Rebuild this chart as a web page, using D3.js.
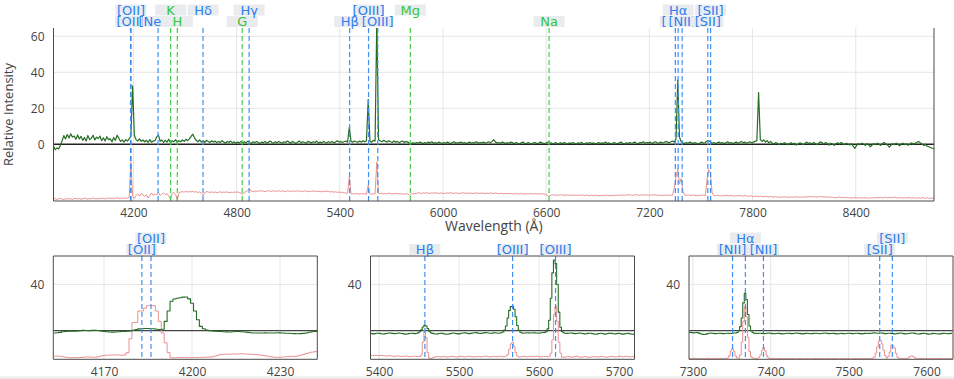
<!DOCTYPE html>
<html>
<head>
<meta charset="utf-8">
<script src="https://cdn.jsdelivr.net/npm/d3@7"></script>
<style>
  body { margin: 0; background: #fff; }
  svg { display: block; }
  .tick text { font-family: "Open Sans", sans-serif; font-size: 12px; fill: #444; }
  .axis-title { font-family: "Open Sans", sans-serif; font-size: 14px; fill: #444; }
  .line-label { font-family: "DejaVu Sans", sans-serif; font-size: 13px; }
</style>
</head>
<body>
<div id="chart"></div>
<script>
// overview spectrum, 10 A sampling starting at 3735 A
const overviewStart = 3735, overviewStep = 10;
const overviewGreen = [
  -1.0, -3.0, -2.0, -2.6, -0.5, 2.0, 4.8, 3.0, 5.4, 3.5,
  5.8, 4.0, 4.6, 2.8, 5.2, 3.0, 4.4, 2.2, 3.8, 1.8,
  4.9, 2.6, 3.4, 5.0, 2.4, 4.0, 3.2, 4.6, 2.0, 3.6,
  1.8, 4.2, 2.6, 3.0, 1.4, 3.8, 2.2, 5.0, 3.4, 1.6,
  2.4, 1.2, 2.6, 1.8, 3.0, 4.5, 32.4, 5.0, 2.6, 1.8,
  3.0, 1.6, 2.4, 1.4, 2.2, 1.0, 2.6, 1.2, 1.8, 2.0,
  4.0, 5.2, 1.6, 2.4, 1.0, 2.2, 1.2, 2.8, 0.8, 2.0,
  1.4, 2.6, 1.0, 2.0, 1.4, 2.4, 1.6, 2.8, 2.0, 3.0,
  4.4, 5.6, 3.6, 2.2, 1.4, 2.4, 1.2, 2.0, 1.0, 2.2,
  1.6, 1.0, 2.0, 1.2, 1.8, 0.8, 1.6, 1.0, 2.0, 1.2,
  0.6, 1.6, 1.0, 1.8, 0.8, 1.4, 0.6, 1.2, 0.8, 1.6,
  0.6, 1.4, 0.8, 1.8, 1.0, 0.6, 1.4, 0.8, 1.6, 1.0,
  0.4, 1.2, 0.8, 1.6, 0.6, 1.2, 1.8, 1.0, 0.6, 1.4,
  0.8, 1.6, 1.0, 0.6, 1.4, 1.0, 1.8, 1.2, 0.6, 1.6,
  1.0, 0.4, 1.2, 1.8, 0.8, 1.4, 1.0, 0.6, 1.6, 1.2,
  0.8, 1.4, 1.0, 1.8, 0.6, 1.2, 0.8, 1.6, 1.0, 0.8,
  1.4, 1.0, 1.6, 0.8, 1.2, 2.0, 1.2, 1.6, 1.0, 1.4,
  1.8, 1.2, 9.4, 1.6, 1.2, 1.8, 1.4, 1.0, 1.8, 1.2,
  2.0, 1.4, 2.0, 25.0, 1.6, 1.2, 2.2, 1.8, 70.0, 2.6,
  1.8, 1.4, 2.2, 1.6, 1.2, 2.0, 1.4, 1.0, 1.8, 1.2,
  1.6, 0.8, 1.4, 1.8, 1.0, 1.6, 1.2, 0.6, 0.4, 0.8,
  0.4, 1.0, 0.6, 1.2, 0.8, 0.4, 1.0, 0.6, 1.2, 0.8,
  1.4, 0.6, 1.0, 0.4, 1.2, 0.8, 0.6, 1.0, 0.6, 1.2,
  0.8, 0.4, 1.0, 1.4, 0.6, 1.0, 0.8, 1.2, 0.6, 1.0,
  0.4, 0.8, 1.2, 0.6, 1.0, 0.8, 1.4, 0.6, 1.0, 0.8,
  1.2, 0.6, 1.0, 1.4, 0.8, 1.6, 2.6, 1.2, 0.8, 1.0,
  0.6, 1.2, 0.8, 0.4, 1.0, 0.6, 1.2, 0.8, 0.4, 1.0,
  0.6, 0.2, 0.8, 1.2, 0.6, 0.4, 1.0, 0.6, 0.2, 0.8,
  1.0, 0.4, 0.6, 1.2, 0.8, 0.4, 0.6, 1.0, 1.4, 0.8,
  0.4, 0.6, 1.0, 0.2, 0.6, 0.8, 0.4, 1.0, 0.6, 0.2,
  0.8, 0.4, 1.0, 0.6, 0.2, 0.8, 0.6, 1.0, 0.4, 0.2,
  0.8, 0.6, 1.0, 0.4, 0.8, 0.2, 0.6, 1.0, 0.4, 0.8,
  0.6, 1.2, 0.4, 0.8, 0.2, 0.6, 1.0, 0.6, 0.4, 0.8,
  1.2, 0.6, 0.2, 0.8, 0.4, 1.0, 0.6, 0.8, 1.2, 0.6,
  0.4, 1.0, 0.8, 1.4, 0.6, 1.0, 0.8, 1.2, 0.4, 1.0,
  1.4, 0.8, 0.6, 1.2, 0.8, 1.0, 1.6, 1.2, 0.8, 1.4,
  1.8, 1.2, 3.0, 35.7, 4.0, 1.4, 0.8, 0.4, 1.0, 0.6,
  1.2, 0.8, 0.4, 1.0, 0.6, 0.2, 0.8, 1.2, 0.6, 1.0,
  1.8, 2.0, 1.2, 0.6, 1.0, 0.4, 0.8, 1.2, 0.6, 1.0,
  0.4, 0.8, 1.4, 0.6, 1.0, 0.4, 0.8, 1.2, 0.6, 1.0,
  1.6, 0.8, 1.2, 0.6, 1.0, 1.4, 0.8, 1.2, 1.6, 2.0,
  28.7, 2.6, 1.6, 2.4, 1.2, 2.0, 0.8, 1.6, 0.6, 0.2,
  1.0, 0.4, -0.2, 0.6, 0.2, 0.8, 0.4, -0.2, 0.4, 0.8,
  0.2, 0.6, -0.4, 0.2, 0.8, 0.4, -0.2, 0.6, 1.2, 0.4,
  0.8, 0.2, 1.0, 0.4, -0.2, 0.6, 1.4, 0.8, 0.2, 1.0,
  0.4, -0.4, 0.6, 0.2, -0.6, 0.4, 0.8, 0.2, 1.0, 0.4,
  -0.2, 0.6, 0.2, -0.4, 0.4, -1.0, -2.2, -0.6, 0.4, -0.2,
  0.6, 0.2, -0.6, 0.4, -0.2, -1.4, -0.4, 0.4, -0.2, 0.6,
  0.0, -0.6, 0.4, 1.0, 0.2, -0.4, -1.6, -0.4, 0.4, -0.2,
  0.6, 0.0, -0.8, 0.2, 0.6, -0.2, 0.4, -0.6, 0.2, 0.8,
  0.0, 0.6, 1.0, 1.6, 0.8, 0.2, -0.6, -0.2, -1.0, -1.4,
  -1.8, -2.2, -2.4
];
const overviewRed = [
  -30.4, -30.2, -30.6, -30.3, -30.0, -30.4, -30.7, -30.2, -30.5, -30.1,
  -30.3, -30.6, -30.2, -30.0, -30.4, -30.1, -30.5, -30.3, -29.9, -30.2,
  -30.5, -30.1, -30.3, -29.8, -30.2, -30.4, -30.0, -30.3, -29.9, -30.1,
  -30.4, -30.0, -29.8, -30.2, -29.9, -30.3, -30.0, -29.7, -30.1, -29.9,
  -30.2, -29.8, -30.0, -29.9, -29.6, -9.7, -28.6, -30.2, -28.4, -27.6,
  -28.8, -27.4, -28.2, -29.0, -28.0, -29.9, -28.6, -27.0, -28.4, -27.6,
  -28.2, -26.6, -28.6, -27.6, -27.0, -28.0, -27.4, -28.8, -30.5, -27.2,
  -26.9, -27.8, -31.0, -26.8, -26.5, -26.3, -26.6, -26.2, -26.5, -26.3,
  -26.4, -26.2, -26.6, -26.3, -26.8, -26.4, -27.2, -28.6, -26.8, -26.3,
  -26.5, -26.7, -26.4, -26.8, -26.5, -26.9, -26.6, -26.4, -26.8, -26.5,
  -26.7, -26.4, -26.9, -26.6, -26.8, -26.5, -26.7, -26.4, -26.9, -27.2,
  -27.8, -26.6, -26.3, -25.6, -24.8, -26.0, -26.4, -25.9, -26.2, -26.0,
  -25.8, -26.1, -25.9, -26.3, -26.0, -25.7, -26.2, -26.0, -25.8, -26.1,
  -26.0, -25.8, -26.2, -25.9, -26.1, -26.3, -25.8, -26.0, -26.2, -25.9,
  -26.1, -26.0, -25.8, -26.3, -26.0, -26.2, -25.9, -26.1, -26.4, -26.0,
  -26.2, -25.9, -26.1, -26.3, -26.0, -26.2, -26.4, -26.1, -26.3, -26.0,
  -26.2, -26.5, -26.3, -26.6, -26.4, -26.7, -26.5, -26.8, -26.6, -27.0,
  -27.1, -27.2, -18.1, -27.6, -27.4, -27.6, -27.3, -27.5, -27.7, -27.4,
  -27.6, -27.4, -27.8, -22.6, -27.5, -27.7, -27.4, -27.6, -9.7, -27.2,
  -27.4, -27.2, -27.6, -27.3, -27.5, -27.1, -27.4, -27.6, -27.2, -27.5,
  -27.3, -27.6, -27.4, -27.7, -27.5, -27.8, -27.4, -28.5, -27.6, -27.3,
  -27.2, -27.4, -26.8, -27.1, -27.3, -27.0, -27.2, -26.9, -27.1, -27.3,
  -27.0, -27.2, -26.9, -27.1, -27.3, -27.0, -27.2, -27.4, -27.1, -27.0,
  -27.2, -26.9, -27.1, -27.3, -27.0, -27.2, -27.4, -27.1, -26.9, -27.2,
  -27.0, -27.3, -27.1, -27.2, -27.4, -27.0, -27.2, -27.1, -27.3, -27.0,
  -27.2, -27.4, -27.1, -27.3, -27.0, -27.2, -27.4, -27.1, -27.3, -27.5,
  -27.2, -27.4, -27.6, -27.3, -27.5, -27.2, -27.4, -27.6, -27.3, -27.5,
  -27.4, -27.6, -27.3, -27.5, -27.7, -27.4, -27.6, -27.3, -27.5, -27.6,
  -27.4, -27.6, -27.5, -27.7, -27.4, -27.6, -27.8, -28.2, -29.0, -28.4,
  -28.0, -28.2, -28.4, -28.1, -28.3, -28.0, -28.2, -28.4, -28.1, -28.3,
  -28.2, -28.4, -28.1, -28.3, -28.5, -28.2, -28.4, -28.1, -28.3, -28.5,
  -28.2, -28.4, -28.6, -28.3, -28.5, -28.2, -28.4, -28.6, -28.3, -28.5,
  -28.3, -28.5, -28.2, -28.4, -28.6, -28.3, -28.5, -28.2, -28.4, -28.1,
  -28.3, -28.1, -28.4, -28.2, -28.0, -28.3, -28.1, -28.4, -28.2, -28.0,
  -28.2, -28.4, -28.1, -28.3, -28.0, -28.2, -28.4, -28.1, -28.3, -28.0,
  -28.2, -28.4, -28.1, -28.3, -28.5, -28.2, -28.4, -28.1, -28.3, -28.2,
  -28.3, -24.0, -18.0, -13.5, -22.0, -19.0, -26.0, -28.2, -28.4, -28.1,
  -28.3, -28.5, -28.2, -28.4, -28.6, -28.3, -28.5, -28.2, -28.4, -28.6,
  -20.0, -14.0, -16.0, -27.0, -28.4, -28.6, -28.3, -28.5, -28.7, -28.4,
  -28.6, -28.3, -28.5, -28.7, -28.4, -28.6, -28.8, -28.5, -28.7, -28.4,
  -28.6, -28.8, -28.5, -28.7, -28.9, -28.6, -28.8, -29.1, -28.7, -28.9,
  -29.1, -28.8, -29.0, -29.2, -28.9, -29.1, -29.3, -29.0, -29.2, -29.4,
  -29.1, -29.3, -29.5, -29.2, -29.4, -29.1, -29.3, -29.5, -29.2, -29.4,
  -29.2, -29.4, -29.1, -29.3, -29.5, -29.2, -29.4, -29.1, -29.3, -29.0,
  -29.2, -29.0, -29.3, -29.1, -29.4, -29.2, -29.0, -29.3, -29.1, -29.4,
  -29.2, -29.5, -29.3, -29.6, -29.4, -29.7, -29.5, -29.3, -29.6, -29.4,
  -29.7, -29.5, -29.8, -29.6, -29.9, -29.7, -29.5, -29.8, -29.6, -29.9,
  -29.7, -29.9, -29.6, -29.8, -30.0, -29.7, -29.9, -29.6, -29.8, -29.5,
  -29.7, -29.5, -29.8, -29.6, -29.4, -29.7, -29.5, -29.8, -29.6, -29.4,
  -29.6, -29.8, -29.5, -29.7, -29.9, -29.6, -29.8, -29.5, -29.7, -29.9,
  -29.6, -29.8, -30.0, -29.7, -29.9, -29.6, -29.8, -30.0, -29.7, -29.9,
  -30.1, -29.8, -30.0
];

// [OII] window, 1 A sampling
const oiiStart = 4153, oiiStep = 1;
const oiiGreen = [
  -2.0, -1.8, -1.5, -1.0, -0.6, -0.5, -0.4, -0.5, -0.3, 0.0,
  0.2, 0.1, 0.0, 0.2, 0.3, 0.1, -0.2, -0.6, -1.0, -1.2,
  -1.3, -1.2, -1.0, -0.8, -0.6, -0.5, -0.3, 0.3, 0.9, 1.5,
  1.7, 1.8, 1.8, 1.7, 1.6, 1.2, 1.0, 1.2, 8.0, 17.0,
  25.5, 27.4, 28.0, 28.5, 29.0, 29.1, 27.5, 23.7, 17.0, 9.4,
  3.7, 1.7, 0.5, 0.0, -0.3, -0.5, -0.6, -0.8, -1.0, -1.1,
  -1.2, -1.0, -0.8, -0.7, -0.9, -1.2, -1.5, -1.8, -2.0, -2.0,
  -2.1, -2.0, -1.9, -2.0, -2.1, -2.0, -1.8, -1.9, -2.0, -2.2,
  -2.3, -2.5, -2.6, -2.7, -2.6, -2.4, -2.0, -1.4, -0.9, -0.6,
  -0.5
];
const oiiRed = [
  -22.0, -22.0, -22.2, -22.6, -23.0, -23.3, -23.4, -23.4, -23.4, -23.2,
  -23.0, -22.8, -22.8, -23.0, -23.0, -22.6, -22.0, -21.5, -21.2, -21.1,
  -21.0, -21.0, -21.1, -21.3, -21.0, -19.0, -7.0, 7.0, 7.0, 17.0,
  17.0, 19.5, 21.7, 21.7, 21.7, 17.0, 8.0, -2.0, -10.5, -19.0,
  -23.4, -23.5, -23.4, -23.4, -23.3, -23.4, -23.4, -23.3, -23.2, -23.3,
  -23.2, -23.0, -23.0, -22.8, -22.6, -22.0, -21.2, -20.6, -20.4, -20.3,
  -20.4, -20.2, -20.3, -20.1, -20.0, -20.2, -20.3, -20.5, -20.6, -20.8,
  -21.0, -21.4, -21.8, -22.2, -22.6, -23.0, -23.1, -23.0, -22.8, -22.6,
  -22.4, -22.2, -22.3, -22.0, -21.4, -20.6, -19.8, -19.2, -18.6, -18.2,
  -17.7
];

// Hbeta / [OIII] window, 2 A sampling
const hbStart = 5389, hbStep = 2;
const hbGreen = [
  -2.4, -2.6, -2.8, -2.6, -2.3, -2.2, -2.4, -2.7, -2.9, -2.8,
  -2.5, -2.2, -2.0, -2.1, -2.4, -2.6, -2.5, -2.3, -2.1, -2.2,
  -2.5, -2.8, -3.0, -2.9, -2.6, -2.3, -2.2, -2.4, -2.6, -2.3,
  -1.9, -1.0, 0.8, 3.2, 4.6, 4.0, 1.8, -0.4, -1.8, -2.4,
  -2.7, -2.9, -2.8, -2.5, -2.3, -2.4, -2.7, -3.0, -3.1, -2.9,
  -2.6, -2.3, -2.1, -2.3, -2.6, -2.8, -2.6, -2.3, -2.0, -1.9,
  -2.1, -2.4, -2.6, -2.4, -2.1, -1.8, -1.7, -1.9, -2.2, -2.4,
  -2.2, -1.9, -1.7, -1.8, -2.1, -2.3, -2.2, -1.9, -1.8, -2.0,
  -2.2, -2.1, -1.8, -1.2, 0.5, 4.0, 11.0, 17.5, 20.8, 21.1,
  18.5, 12.0, 4.5, 0.2, -1.4, -2.0, -2.2, -2.0, -1.8, -1.9,
  -2.1, -2.0, -1.8, -1.9, -2.1, -2.2, -2.0, -1.8, -1.6, -1.5,
  -1.0, 1.5, 9.0, 28.0, 50.0, 61.0, 58.0, 40.0, 16.0, 3.0,
  -0.8, -1.8, -2.2, -2.4, -2.2, -2.0, -2.1, -2.4, -2.6, -2.5,
  -2.2, -2.0, -2.2, -2.5, -2.8, -2.7, -2.4, -2.2, -2.3, -2.6,
  -2.9, -3.1, -2.8, -2.5, -2.3, -2.5, -2.8, -3.0, -2.7, -2.4,
  -2.2, -2.4, -2.7, -2.9, -2.6, -2.3, -2.5, -2.8, -3.0, -2.8,
  -2.5, -2.3, -2.6, -2.9, -3.1, -2.8
];
const hbRed = [
  -21.4, -21.6, -21.5, -21.3, -21.5, -21.7, -21.6, -21.4, -21.5, -21.8,
  -22.0, -21.8, -21.6, -21.8, -22.1, -22.3, -22.1, -21.9, -22.0, -22.2,
  -22.4, -22.2, -22.0, -22.1, -22.3, -22.5, -22.3, -22.1, -22.2, -22.4,
  -22.5, -22.4, -21.0, -10.0, 0.3, -6.0, -19.0, -23.8, -24.2, -23.6,
  -23.0, -22.6, -22.4, -22.6, -22.8, -22.5, -22.3, -22.6, -22.9, -22.7,
  -22.4, -22.2, -22.4, -22.7, -22.9, -22.6, -22.4, -22.2, -22.5, -22.8,
  -22.6, -22.3, -22.1, -22.3, -22.6, -22.8, -22.5, -22.2, -22.4, -22.7,
  -22.5, -22.2, -22.0, -22.2, -22.5, -22.7, -22.4, -22.1, -22.3, -22.6,
  -22.4, -22.2, -22.3, -22.5, -22.4, -22.0, -20.5, -16.0, -11.5, -10.0,
  -13.5, -19.0, -22.0, -22.8, -22.6, -22.4, -22.2, -22.5, -22.7, -22.4,
  -22.2, -22.4, -22.6, -22.3, -22.1, -22.3, -22.6, -22.8, -22.5, -22.3,
  -22.4, -22.6, -22.3, -19.5, -8.0, 14.0, 21.1, 8.0, -10.0, -19.5,
  -22.8, -23.2, -22.9, -22.6, -22.4, -22.7, -23.0, -22.8, -22.5, -22.3,
  -22.5, -22.8, -23.0, -22.7, -22.4, -22.6, -22.9, -23.1, -22.8, -22.5,
  -22.3, -22.6, -22.9, -22.7, -22.4, -22.2, -22.5, -22.8, -23.0, -22.7,
  -22.4, -22.2, -22.5, -22.8, -22.6, -22.3, -22.1, -22.4, -22.7, -22.5,
  -22.2, -22.4, -22.7, -22.5, -22.3, -22.6
];

// Halpha / [NII] / [SII] window, 2 A sampling
const haStart = 7295, haStep = 2;
const haGreen = [
  -1.6, -1.5, -1.7, -1.9, -1.8, -1.6, -1.9, -2.4, -2.9, -3.2,
  -3.3, -3.0, -2.6, -2.3, -2.1, -2.2, -2.4, -2.6, -2.5, -2.3,
  -2.2, -2.4, -2.6, -2.5, -2.3, -2.2, -2.4, -2.5, -2.3, -2.1,
  -2.0, -1.6, 0.0, 3.5, 11.0, 24.0, 32.3, 27.0, 14.0, 4.0,
  0.0, -1.6, -2.2, -2.4, -2.5, -2.3, -2.2, -2.4, -2.6, -2.5,
  -2.3, -2.1, -2.2, -2.4, -2.6, -2.7, -2.5, -2.3, -2.4, -2.6,
  -2.8, -2.7, -2.5, -2.3, -2.2, -2.4, -2.6, -2.5, -2.3, -2.1,
  -2.2, -2.4, -2.6, -2.8, -2.6, -2.4, -2.3, -2.5, -2.7, -2.6,
  -2.4, -2.2, -2.3, -2.5, -2.7, -2.5, -2.3, -2.1, -2.2, -2.4,
  -2.6, -2.5, -2.3, -2.4, -2.6, -2.8, -2.7, -2.5, -2.4, -2.6,
  -2.7, -2.5, -2.3, -2.2, -2.4, -2.6, -2.5, -2.3, -2.2, -2.4,
  -2.6, -2.8, -2.6, -2.4, -2.3, -2.5, -2.4, -2.2, -2.0, -1.9,
  -2.1, -2.3, -2.2, -2.0, -2.1, -2.4, -2.6, -2.5, -2.3, -2.2,
  -2.4, -2.6, -2.8, -2.7, -2.4, -2.2, -2.1, -2.3, -2.6, -2.8,
  -2.7, -2.5, -2.2, -2.0, -2.1, -2.4, -2.7, -2.9, -2.8, -2.6,
  -2.4, -2.3, -2.5, -2.8, -3.0, -2.9, -2.6, -2.4, -2.5, -2.7,
  -2.9, -2.8, -2.6, -2.4, -2.3, -2.5, -2.7, -2.6, -2.4, -2.2
];
const haRed = [
  -24.0, -24.2, -24.1, -23.9, -24.0, -24.2, -24.3, -24.1, -24.0, -24.2,
  -24.3, -24.1, -23.9, -24.0, -24.2, -24.1, -23.9, -24.0, -24.2, -24.1,
  -24.0, -24.1, -24.2, -24.0, -24.0, -23.6, -21.5, -17.5, -15.5, -18.0,
  -22.0, -23.6, -23.8, -21.0, -10.0, 8.0, 20.7, 12.0, -6.0, -18.0,
  -22.5, -23.8, -23.9, -24.0, -23.8, -23.2, -21.0, -17.0, -14.6, -17.5,
  -21.5, -23.5, -24.1, -24.2, -24.0, -24.1, -24.3, -24.2, -24.0, -24.1,
  -24.2, -24.3, -24.1, -24.0, -24.2, -24.3, -24.1, -24.0, -24.2, -24.4,
  -24.3, -24.1, -24.0, -24.2, -24.4, -24.3, -24.1, -24.2, -24.4, -24.3,
  -24.1, -24.0, -24.2, -24.3, -24.1, -24.0, -24.2, -24.4, -24.3, -24.1,
  -24.0, -24.2, -24.3, -24.1, -24.0, -24.2, -24.4, -24.3, -24.1, -24.0,
  -24.2, -24.3, -24.1, -24.2, -24.4, -24.3, -24.1, -24.0, -24.2, -24.3,
  -24.1, -24.0, -24.2, -24.3, -24.1, -24.0, -24.2, -24.1, -23.8, -22.8,
  -19.5, -14.0, -9.0, -8.3, -11.5, -17.0, -21.5, -23.6, -22.5, -18.5,
  -12.8, -13.2, -15.0, -19.5, -23.0, -24.0, -24.2, -24.1, -24.0, -24.2,
  -24.1, -23.5, -22.5, -21.8, -22.4, -23.4, -24.0, -24.2, -24.1, -24.0,
  -24.2, -24.3, -24.1, -24.0, -24.2, -24.3, -24.1, -24.2, -24.4, -24.3,
  -24.1, -24.0, -24.2, -24.3, -24.1, -24.0, -24.2, -24.3, -24.1, -24.0
];

// redshifted line markers (observed wavelength, A)
const lineNames = ["[OII]", "[OII]", "[NeIII]", "K", "H", "Hδ", "G", "Hγ", "Hβ", "[OIII]", "[OIII]",
                   "Mg", "Na", "[NII]", "Hα", "[NII]", "[SII]", "[SII]"];
const lineWaves = [4182.9, 4186.0, 4343.1, 4416.0, 4455.0, 4604.6, 4832.1, 4872.6, 5457.3, 5566.9, 5620.6,
                   5809.9, 6616.6, 7350.9, 7367.4, 7390.6, 7539.9, 7556.1];
const lineKinds = ["em", "em", "em", "abs", "abs", "em", "abs", "em", "em", "em", "em",
                   "abs", "abs", "em", "em", "em", "em", "em"];
const mainLabelTier = [0, 1, 0, 1, 0, 1, 0, 1, 0, 1, 0, 1, 0, 0, 1, 0, 0, 1];

const mainTicksX = [4200, 4800, 5400, 6000, 6600, 7200, 7800, 8400];
const mainTicksY = [0, 20, 40, 60];
const insetTicksX = [[4170, 4200, 4230], [5400, 5500, 5600, 5700], [7300, 7400, 7500, 7600]];
const insetTicksY = [40];
const insetDomains = [[4152.7, 4242.7], [5389.3, 5719.3], [7295, 7634]];

const width = 954, height = 379;
const colors = {green: "#256d25", red: "#ea9191", em: "#3b8ef3", emText: "#2a80f0", abs: "#3fcf3f", absText: "#33c533"};

const lines = lineNames.map((name, i) => ({name, wave: lineWaves[i], kind: lineKinds[i], tier: mainLabelTier[i]}));

const toPoints = (start, step, values) => values.map((v, i) => [start + i * step, v]);

const svg = d3.select("#chart").append("svg")
    .attr("width", width)
    .attr("height", height)
    .attr("viewBox", [0, 0, width, height]);

svg.append("rect")
    .attr("x", 0).attr("y", 376.5)
    .attr("width", width).attr("height", height - 376.5)
    .attr("fill", "#ececec");

let clipId = 0;

function Panel({left, top, w, h, xDomain, yDomain, xTicks, yTicks, series, curve, fullFrame, zeroColor, tiers}) {
  const x = d3.scaleLinear().domain(xDomain).range([left, left + w]);
  const y = d3.scaleLinear().domain(yDomain).range([top + h, top]);
  const g = svg.append("g");

  g.append("g")
      .attr("stroke", "#e6e6e6")
    .selectAll("line")
    .data(xTicks)
    .join("line")
      .attr("x1", d => x(d)).attr("x2", d => x(d))
      .attr("y1", top).attr("y2", top + h);

  g.append("g")
      .attr("stroke", "#e6e6e6")
    .selectAll("line")
    .data(yTicks.filter(d => d !== 0))
    .join("line")
      .attr("x1", left).attr("x2", left + w)
      .attr("y1", d => y(d)).attr("y2", d => y(d));

  g.append("g")
      .attr("transform", `translate(0,${top + h})`)
      .call(d3.axisBottom(x).tickValues(xTicks).tickSize(0).tickPadding(7.8).tickFormat(d3.format("d")))
      .call(g => g.select(".domain").remove());

  g.append("g")
      .attr("transform", `translate(${left},0)`)
      .call(d3.axisLeft(y).tickValues(yTicks).tickSize(0).tickPadding(9).tickFormat(d3.format("d")))
      .call(g => g.select(".domain").remove());

  const id = "clip" + (clipId++);
  g.append("clipPath").attr("id", id)
    .append("rect").attr("x", left).attr("y", top).attr("width", w).attr("height", h);

  g.append("line")
      .attr("x1", left).attr("x2", left + w)
      .attr("y1", y(0)).attr("y2", y(0))
      .attr("stroke", zeroColor)
      .attr("stroke-width", 1.4);

  const line = d3.line().x(d => x(d[0])).y(d => y(d[1])).curve(curve);
  const plot = g.append("g").attr("clip-path", `url(#${id})`);
  series.forEach(s => {
    plot.append("path")
        .datum(s.points.filter(d => d[0] >= xDomain[0] - 20 && d[0] <= xDomain[1] + 20))
        .attr("fill", "none")
        .attr("stroke", s.color)
        .attr("stroke-width", s.width)
        .attr("stroke-linejoin", "round")
        .attr("d", line);
  });

  const shown = lines.filter(d => d.wave >= xDomain[0] && d.wave <= xDomain[1]);

  plot.append("g")
    .selectAll("line")
    .data(shown)
    .join("line")
      .attr("x1", d => x(d.wave)).attr("x2", d => x(d.wave))
      .attr("y1", top).attr("y2", top + h)
      .attr("stroke", d => d.kind === "em" ? colors.em : colors.abs)
      .attr("stroke-width", 1.2)
      .attr("stroke-dasharray", "5,3");

  const frame = g.append("g").attr("stroke", "#4a4a4a").attr("fill", "none");
  frame.append("line").attr("x1", left).attr("x2", left).attr("y1", top).attr("y2", top + h);
  frame.append("line").attr("x1", left).attr("x2", left + w).attr("y1", top + h).attr("y2", top + h);
  frame.append("line").attr("x1", left + w).attr("x2", left + w).attr("y1", top).attr("y2", top + h);
  if (fullFrame) frame.append("line").attr("x1", left).attr("x2", left + w).attr("y1", top).attr("y2", top);

  // labels: lower row by default, upper row when crowded
  let prev = null;
  shown.forEach(d => {
    let tier;
    if (tiers === "main") tier = d.tier;
    else {
      tier = prev && x(d.wave) - x(prev.wave) < 20 && prev.t === 0 ? 1 : 0;
      prev = {wave: d.wave, t: tier};
    }
    const cy = top - (tier ? 18 : 6.5);
    const lx = x(d.wave);
    g.append("rect")
        .attr("x", lx - 15.5).attr("y", cy - 5.5)
        .attr("width", 31).attr("height", 11)
        .attr("fill", "#e9ebee");
    g.append("text")
        .attr("class", "line-label")
        .attr("x", lx).attr("y", cy + 4.7)
        .attr("text-anchor", "middle")
        .attr("fill", d.kind === "em" ? colors.emText : colors.absText)
        .text(d.name);
  });

  return {x, y};
}

const overviewGreenPts = toPoints(overviewStart, overviewStep, overviewGreen);
const overviewRedPts = toPoints(overviewStart, overviewStep, overviewRed);

Panel({
  left: 53.5, top: 28, w: 880.5, h: 173,
  xDomain: [3735, 8855], yDomain: [-31.5, 64.6],
  xTicks: mainTicksX, yTicks: mainTicksY,
  series: [
    {points: overviewRedPts, color: colors.red, width: 1},
    {points: overviewGreenPts, color: colors.green, width: 1.2}
  ],
  curve: d3.curveLinear, fullFrame: false, zeroColor: "#222", tiers: "main"
});

svg.append("text")
    .attr("class", "axis-title")
    .attr("x", 493.8).attr("y", 230.5)
    .attr("text-anchor", "middle")
    .text("Wavelength (Å)");

svg.append("text")
    .attr("class", "axis-title")
    .attr("transform", "translate(13.4,114.5) rotate(-90)")
    .attr("text-anchor", "middle")
    .style("font-size", "13px")
    .text("Relative Intensity");

const insetSeries = [
  [toPoints(oiiStart, oiiStep, oiiRed), toPoints(oiiStart, oiiStep, oiiGreen)],
  [toPoints(hbStart, hbStep, hbRed), toPoints(hbStart, hbStep, hbGreen)],
  [toPoints(haStart, haStep, haRed), toPoints(haStart, haStep, haGreen)]
];
const insetLefts = [53.3, 370.5, 689];

insetLefts.forEach((left, i) => {
  Panel({
    left, top: 256, w: 264, h: 103.3,
    xDomain: insetDomains[i], yDomain: [-24.8, 64.6],
    xTicks: insetTicksX[i], yTicks: insetTicksY,
    series: [
      {points: insetSeries[i][0], color: colors.red, width: 1},
      {points: insetSeries[i][1], color: colors.green, width: 1.1}
    ],
    curve: d3.curveStep, fullFrame: true, zeroColor: "#444", tiers: "auto"
  });
});
</script>
</body>
</html>
